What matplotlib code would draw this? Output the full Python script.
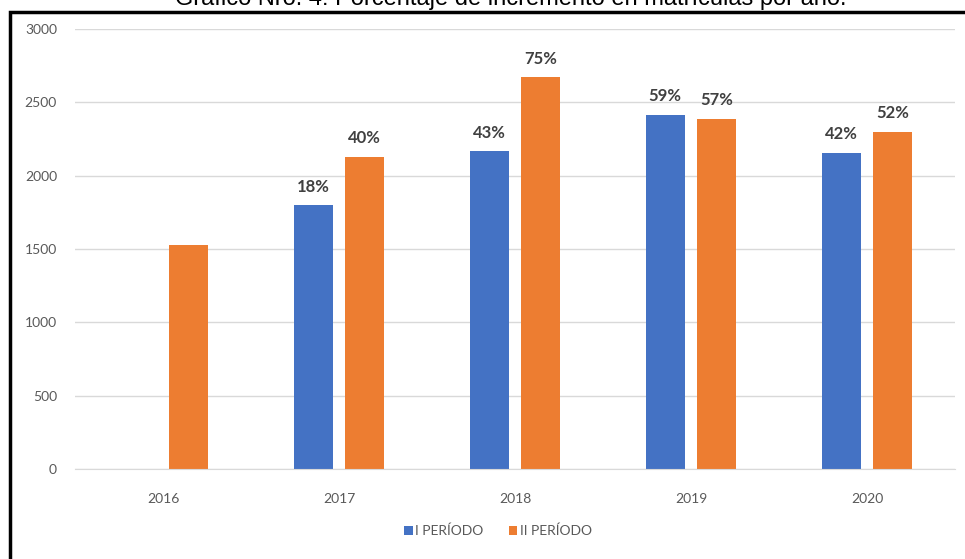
import matplotlib
matplotlib.use("Agg")
import matplotlib.pyplot as plt
import numpy as np
from matplotlib.patches import Rectangle

years = ["2016", "2017", "2018", "2019", "2020"]
periodo_1 = [np.nan, 1797, 2165, 2413, 2153]
periodo_2 = [1530, 2127, 2670, 2385, 2300]
labels_1 = ["", "18%", "43%", "59%", "42%"]
labels_2 = ["", "40%", "75%", "57%", "52%"]
series_names = ["I PERÍODO", "II PERÍODO"]
title = "Gráfico Nro. 4: Porcentaje de incremento en matrículas por año."

blue = "#4472C4"
orange = "#ED7D31"

W, H = 965, 559
fig = plt.figure(figsize=(W / 100, H / 100), dpi=100)
ax = fig.add_axes([75 / W, (H - 469) / H, 880 / W, 440 / H])

x = np.arange(len(years))
bw = 0.222
off = 0.146
b1 = ax.bar(x - off, periodo_1, width=bw, color=blue, label=series_names[0], zorder=3)
b2 = ax.bar(x + off, periodo_2, width=bw, color=orange, label=series_names[1], zorder=3)

for xs, vals, labs in ((x - off, periodo_1, labels_1), (x + off, periodo_2, labels_2)):
    for xi, v, t in zip(xs, vals, labs):
        if t:
            ax.annotate(t, (xi, v), xytext=(0, 13.5), textcoords="offset points",
                        ha="center", va="center", fontsize=12, fontweight="bold",
                        color="#404040", family="Lato")

ax.set_xlim(-0.5, len(years) - 0.5)
ax.set_ylim(0, 3000)
ax.set_yticks(np.arange(0, 3001, 500))
ax.set_xticks(x)
ax.set_xticklabels(years)
ax.yaxis.grid(True, color="#D9D9D9", linewidth=1, zorder=0)
ax.set_axisbelow(True)
for s in ["top", "right", "left"]:
    ax.spines[s].set_visible(False)
ax.spines["bottom"].set_color("#D9D9D9")
ax.spines["bottom"].set_zorder(4)
ax.tick_params(axis="both", length=0, labelsize=10, labelcolor="#595959")
ax.tick_params(axis="y", pad=13)
ax.tick_params(axis="x", pad=17)
for lab in ax.get_xticklabels() + ax.get_yticklabels():
    lab.set_family("Lato")

leg = fig.legend(handles=[b1, b2], labels=series_names, loc="center",
                 bbox_to_anchor=(498 / W, (H - 531) / H), ncol=2, frameon=False,
                 fontsize=10, handlelength=0.6, handleheight=0.6,
                 handletextpad=0.2, columnspacing=1.8)
for t in leg.get_texts():
    t.set_color("#595959")
    t.set_family("Lato")

# frame around the chart (left and top edges visible)
fig.patches.append(Rectangle((10 / W, -0.1), 1.2, (H - 12) / H + 0.1,
                             transform=fig.transFigure, fill=False,
                             edgecolor="black", linewidth=2.5))

fig.text(511 / W, (H - 5) / H, title, ha="center", va="baseline",
         fontsize=17, family="Liberation Sans", color="black")

fig.savefig("out.png", dpi=100)
